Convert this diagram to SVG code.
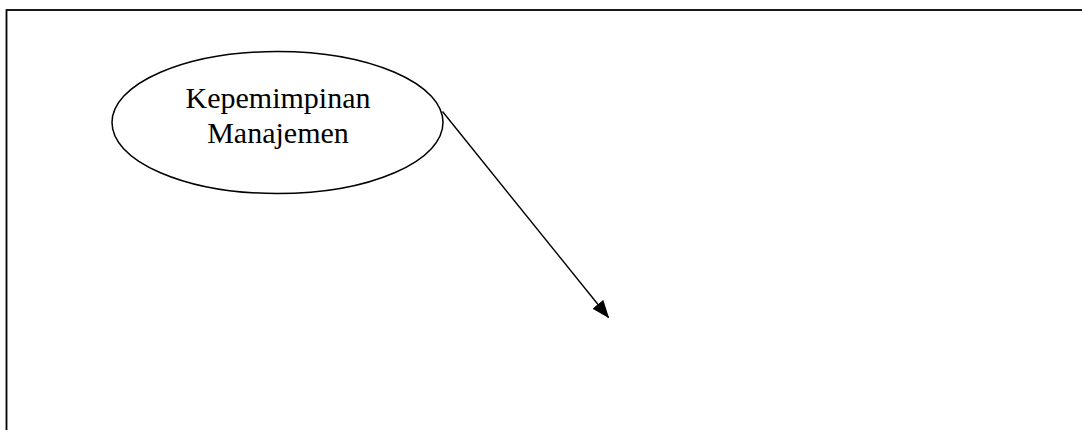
<svg xmlns="http://www.w3.org/2000/svg" width="1082" height="430" viewBox="0 0 1082 430">
  <style>
    .frame { fill: none; stroke: #000; stroke-width: 1.8; }
    .node-shape { fill: #fff; stroke: #000; stroke-width: 1.5; }
    .node-label { font-family: "Liberation Serif", "Times New Roman", serif; font-size: 30px; fill: #000; text-anchor: middle; }
    .connector { fill: none; stroke: #000; stroke-width: 1.4; }
  </style>
  <defs>
    <marker id="arrowhead" markerWidth="18" markerHeight="14" refX="17" refY="7" orient="auto" markerUnits="userSpaceOnUse">
      <path d="M0,0 L18,7 L0,14 Z" fill="#000"/>
    </marker>
  </defs>

  <rect width="1082" height="430" fill="#fff"/>
  <!-- outer frame, running past the right and bottom edges -->
  <rect class="frame" x="6.5" y="10" width="1090" height="440"/>

  <g id="connectors">
    <line class="connector" x1="442.5" y1="111.5" x2="608.5" y2="317.5" marker-end="url(#arrowhead)"/>
  </g>

  <g id="node-kepemimpinan-manajemen">
    <ellipse class="node-shape" cx="277.5" cy="122.5" rx="165.5" ry="71"/>
    <text class="node-label" x="278" y="108">Kepemimpinan</text>
    <text class="node-label" x="278" y="143">Manajemen</text>
  </g>
</svg>
